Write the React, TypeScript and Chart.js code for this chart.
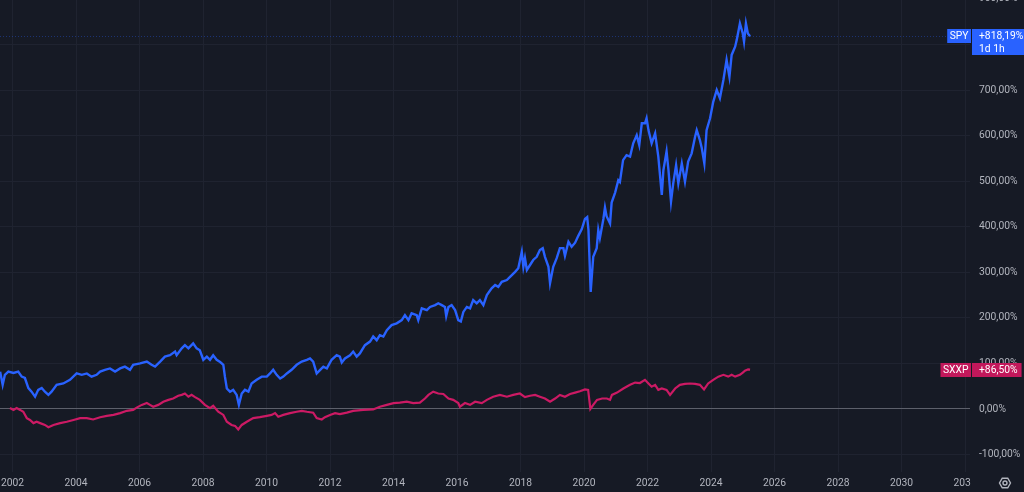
import { useEffect, useRef } from "react";
import { Chart, registerables } from "chart.js";

Chart.register(...registerables);

const BG = "#161a25";
const GRID = "#1f2330";
const ZERO_LINE = "#5d606b";
const AXIS_TEXT = "#b2b5be";
const SPY_COLOR = "#2962ff";
const SXXP_COLOR = "#cc1a64";
const SXXP_TAG = "#c2185b";
const FONT = "Roboto";
const FONT_SIZE = 10.3;

const spyDates = [
  2001.61, 2001.69, 2001.76, 2001.87, 2002.03, 2002.18, 2002.29, 2002.39, 2002.5, 2002.6,
  2002.71, 2002.81, 2002.92, 2003.02, 2003.13, 2003.23, 2003.39, 2003.6, 2003.81, 2004.02,
  2004.18, 2004.34, 2004.49, 2004.65, 2004.76, 2004.91, 2005.07, 2005.23, 2005.39, 2005.54,
  2005.7, 2005.8, 2006.02, 2006.23, 2006.38, 2006.49, 2006.65, 2006.8, 2006.96, 2007.12,
  2007.17, 2007.33, 2007.43, 2007.54, 2007.69, 2007.8, 2007.9, 2008.01, 2008.12, 2008.22,
  2008.32, 2008.43, 2008.54, 2008.64, 2008.69, 2008.75, 2008.85, 2008.95, 2009.06, 2009.13,
  2009.22, 2009.32, 2009.43, 2009.53, 2009.69, 2009.85, 2010.01, 2010.11, 2010.21, 2010.32,
  2010.43, 2010.53, 2010.64, 2010.79, 2010.95, 2011.11, 2011.27, 2011.37, 2011.47, 2011.58,
  2011.69, 2011.79, 2011.9, 2012.05, 2012.21, 2012.31, 2012.37, 2012.47, 2012.63, 2012.73,
  2012.84, 2012.94, 2013.1, 2013.26, 2013.36, 2013.47, 2013.57, 2013.68, 2013.79, 2013.94,
  2014.1, 2014.26, 2014.36, 2014.47, 2014.57, 2014.73, 2014.78, 2014.89, 2015.05, 2015.15,
  2015.31, 2015.41, 2015.52, 2015.62, 2015.66, 2015.73, 2015.83, 2015.94, 2016.04, 2016.12,
  2016.2, 2016.31, 2016.41, 2016.51, 2016.62, 2016.72, 2016.83, 2016.94, 2017.09, 2017.2,
  2017.3, 2017.41, 2017.57, 2017.67, 2017.83, 2017.93, 2018.04, 2018.09, 2018.14, 2018.2,
  2018.3, 2018.4, 2018.51, 2018.61, 2018.7, 2018.77, 2018.88, 2018.93, 2019.03, 2019.14,
  2019.24, 2019.35, 2019.4, 2019.51, 2019.61, 2019.72, 2019.82, 2019.93, 2020.03, 2020.1,
  2020.14, 2020.21, 2020.29, 2020.4, 2020.45, 2020.5, 2020.61, 2020.66, 2020.71, 2020.82,
  2020.87, 2020.98, 2021.08, 2021.13, 2021.23, 2021.34, 2021.45, 2021.55, 2021.66, 2021.74,
  2021.82, 2021.92, 2021.97, 2022.03, 2022.13, 2022.24, 2022.34, 2022.45, 2022.5, 2022.6,
  2022.66, 2022.74, 2022.81, 2022.9, 2022.97, 2023.08, 2023.18, 2023.28, 2023.39, 2023.5,
  2023.55, 2023.65, 2023.71, 2023.79, 2023.86, 2023.97, 2024.07, 2024.18, 2024.28, 2024.39,
  2024.49, 2024.58, 2024.65, 2024.76, 2024.81, 2024.91, 2025.0, 2025.04, 2025.1, 2025.16,
  2025.23,
];

const spyPct = [
  82, 53, 75, 82, 79, 82, 71, 68, 46, 38,
  27, 42, 46, 38, 31, 38, 53, 56, 64, 78,
  75, 78, 71, 75, 82, 86, 89, 82, 89, 93,
  86, 97, 100, 104, 97, 93, 104, 115, 118, 126,
  118, 133, 140, 133, 144, 133, 129, 108, 115, 108,
  118, 108, 103, 97, 71, 45, 38, 42, 31, 9,
  34, 42, 38, 56, 64, 71, 71, 78, 86, 75,
  67, 71, 78, 86, 97, 104, 108, 111, 104, 78,
  86, 93, 89, 108, 118, 115, 102, 111, 118, 126,
  115, 122, 140, 148, 159, 151, 162, 159, 173, 184,
  188, 195, 206, 195, 210, 206, 195, 221, 217, 224,
  228, 232, 228, 224, 204, 224, 228, 217, 195, 192,
  213, 224, 221, 239, 232, 239, 228, 250, 265, 272,
  268, 279, 283, 290, 301, 309, 345, 312, 331, 305,
  316, 327, 334, 349, 353, 334, 312, 276, 312, 331,
  353, 353, 336, 367, 356, 365, 380, 395, 417, 421,
  393, 257, 334, 353, 393, 375, 417, 442, 423, 407,
  453, 475, 502, 498, 546, 557, 554, 583, 601, 579,
  627, 627, 638, 612, 583, 605, 554, 470, 524, 565,
  524, 455, 495, 535, 495, 539, 499, 543, 561, 598,
  612, 590, 572, 539, 612, 638, 674, 700, 682, 722,
  766, 729, 777, 795, 810, 846, 824, 806, 846, 824,
  818.19,
];

const sxxpDates = [
  2001.92, 2002.03, 2002.13, 2002.24, 2002.34, 2002.45, 2002.55, 2002.66, 2002.76, 2002.87,
  2003.02, 2003.13, 2003.29, 2003.5, 2003.71, 2003.92, 2004.13, 2004.34, 2004.54, 2004.76,
  2004.97, 2005.18, 2005.39, 2005.6, 2005.8, 2005.91, 2006.07, 2006.23, 2006.33, 2006.43,
  2006.59, 2006.75, 2006.91, 2007.06, 2007.22, 2007.33, 2007.43, 2007.54, 2007.64, 2007.75,
  2007.9, 2008.06, 2008.22, 2008.32, 2008.48, 2008.64, 2008.75, 2008.9, 2009.01, 2009.11,
  2009.22, 2009.38, 2009.58, 2009.79, 2010.01, 2010.16, 2010.27, 2010.37, 2010.53, 2010.74,
  2010.95, 2011.11, 2011.27, 2011.47, 2011.58, 2011.74, 2011.84, 2012.0, 2012.16, 2012.31,
  2012.53, 2012.73, 2013.05, 2013.36, 2013.57, 2013.79, 2014.0, 2014.2, 2014.42, 2014.62,
  2014.83, 2014.99, 2015.1, 2015.25, 2015.41, 2015.57, 2015.73, 2015.88, 2016.04, 2016.09,
  2016.25, 2016.41, 2016.57, 2016.78, 2016.94, 2017.14, 2017.35, 2017.57, 2017.77, 2017.98,
  2018.14, 2018.3, 2018.46, 2018.61, 2018.77, 2018.93, 2019.09, 2019.24, 2019.4, 2019.56,
  2019.72, 2019.87, 2020.03, 2020.13, 2020.2, 2020.29, 2020.41, 2020.57, 2020.72, 2020.82,
  2020.88, 2021.04, 2021.24, 2021.45, 2021.61, 2021.76, 2021.92, 2022.03, 2022.13, 2022.24,
  2022.34, 2022.45, 2022.6, 2022.71, 2022.87, 2023.02, 2023.18, 2023.34, 2023.5, 2023.65,
  2023.78, 2023.91, 2024.07, 2024.23, 2024.39, 2024.54, 2024.65, 2024.76, 2024.91, 2025.0,
  2025.07, 2025.17, 2025.23,
];

const sxxpPct = [
  2, -2, 2, -2, -6, -20, -24, -31, -28, -31,
  -35, -40, -35, -31, -28, -24, -20, -20, -23, -18,
  -15, -13, -9, -4, -2, 3, 9, 13, 9, 5,
  9, 16, 20, 23, 29, 31, 34, 27, 31, 26,
  20, 9, 2, 7, -6, -13, -28, -35, -37, -45,
  -35, -28, -20, -18, -15, -13, -9, -17, -13, -9,
  -6, -4, -6, -8, -20, -23, -18, -13, -9, -11,
  -8, -4, -2, -1, 5, 9, 13, 14, 16, 13,
  14, 23, 31, 38, 34, 33, 23, 20, 13, 5,
  13, 9, 16, 13, 20, 27, 31, 27, 31, 34,
  26, 29, 31, 27, 23, 16, 23, 31, 27, 33,
  36, 39, 43, 42, 0, 9, 20, 23, 23, 20,
  31, 36, 45, 53, 58, 57, 64, 56, 49, 53,
  42, 45, 42, 31, 45, 53, 55, 56, 55, 53,
  43, 56, 64, 71, 75, 71, 75, 71, 75, 80,
  84, 87, 86.5,
];

const seriesNames = ["SPY", "SXXP"];
const spyTagValue = "+818,19%";
const spyTagInterval = "1d 1h";
const sxxpTagValue = "+86,50%";

const yMin = -138.25;
const yMax = 906.3;
const xMin = 2001.606;
const xMax = 2032.157;

const fmtPct = (v: number) => `${v.toFixed(2).replace(".", ",")}%`;

const overlayPlugin = {
  id: "tvOverlay",
  beforeDatasetsDraw(chart: any) {
    const { ctx, chartArea, scales } = chart;
    const y = Math.round(scales.y.getPixelForValue(spyPct[spyPct.length - 1])) + 0.5;
    ctx.save();
    ctx.strokeStyle = "rgba(41,98,255,0.35)";
    ctx.lineWidth = 1;
    ctx.setLineDash([1, 2]);
    ctx.beginPath();
    ctx.moveTo(chartArea.left, y);
    ctx.lineTo(chartArea.right, y);
    ctx.stroke();
    ctx.restore();
  },
  afterDatasetsDraw(chart: any) {
    const { ctx, chartArea } = chart;
    ctx.save();
    ctx.fillStyle = BG;
    ctx.fillRect(chartArea.right + 1, 0, chart.width - chartArea.right, chart.height);
    ctx.restore();
  },
  afterDraw(chart: any) {
    const { ctx, chartArea, scales } = chart;
    const right = chartArea.right;
    ctx.save();
    ctx.font = `${FONT_SIZE}px ${FONT}`;
    ctx.textBaseline = "middle";

    const drawTag = (
      name: string,
      color: string,
      value: number,
      lines: string[],
      valueBoxRight: number | null
    ) => {
      const yv = scales.y.getPixelForValue(value);
      const top = Math.round(yv - 7);
      const nameW = ctx.measureText(name).width + 5;
      ctx.fillStyle = color;
      ctx.fillRect(right + 1 - nameW, top, nameW, 14);
      const vx = right + 2;
      let tw = 0;
      lines.forEach((l) => (tw = Math.max(tw, ctx.measureText(l).width)));
      const vw = valueBoxRight !== null ? valueBoxRight - vx : tw + 11;
      const vh = lines.length > 1 ? 26 : 14;
      ctx.fillRect(vx, top, vw, vh);
      ctx.fillStyle = "#ffffff";
      ctx.textAlign = "center";
      ctx.fillText(name, right + 1 - nameW / 2, top + 7.5);
      ctx.textAlign = "left";
      lines.forEach((l, i) => ctx.fillText(l, vx + 7, top + 7.5 + i * 12.5));
    };

    drawTag(seriesNames[0], SPY_COLOR, spyPct[spyPct.length - 1], [spyTagValue, spyTagInterval], chart.width);
    drawTag(seriesNames[1], SXXP_TAG, sxxpPct[sxxpPct.length - 1], [sxxpTagValue], null);

    // settings gear icon
    const gx = 1005;
    const gy = chart.height - 9;
    ctx.strokeStyle = AXIS_TEXT;
    ctx.lineWidth = 1.4;
    ctx.beginPath();
    for (let i = 0; i < 6; i++) {
      const a = (Math.PI / 3) * i;
      const px = gx + 5.5 * Math.cos(a);
      const py = gy + 5.5 * Math.sin(a);
      if (i === 0) ctx.moveTo(px, py);
      else ctx.lineTo(px, py);
    }
    ctx.closePath();
    ctx.stroke();
    ctx.beginPath();
    ctx.arc(gx, gy, 2, 0, Math.PI * 2);
    ctx.stroke();
    ctx.restore();
  },
};

export default function App() {
  const canvasRef = useRef<HTMLCanvasElement | null>(null);

  useEffect(() => {
    document.body.style.margin = "0";
    document.body.style.background = BG;
    const canvas = canvasRef.current;
    if (!canvas) return;
    const chart = new Chart(canvas, {
      type: "line",
      data: {
        datasets: [
          {
            label: seriesNames[0],
            data: spyDates.map((d, i) => ({ x: d, y: spyPct[i] })),
            borderColor: SPY_COLOR,
            borderWidth: 2.4,
            pointRadius: 0,
            tension: 0,
          },
          {
            label: seriesNames[1],
            data: sxxpDates.map((d, i) => ({ x: d, y: sxxpPct[i] })),
            borderColor: SXXP_COLOR,
            borderWidth: 2.2,
            pointRadius: 0,
            tension: 0,
          },
        ],
      },
      options: {
        animation: false,
        responsive: false,
        maintainAspectRatio: false,
        layout: { padding: 0 },
        plugins: {
          legend: { display: false },
          tooltip: { enabled: false },
        },
        scales: {
          x: {
            type: "linear",
            position: "bottom",
            min: xMin,
            max: xMax,
            border: { display: false },
            grid: { color: GRID, lineWidth: 1, drawTicks: false },
            ticks: {
              stepSize: 2,
              includeBounds: false,
              autoSkip: false,
              maxRotation: 0,
              maxTicksLimit: 100,
              color: AXIS_TEXT,
              font: { family: FONT, size: FONT_SIZE },
              padding: 5,
              callback: (v: any) => String(Math.round(Number(v))),
            },
            afterFit: (s: any) => {
              s.height = 20;
              s.paddingLeft = 0;
              s.paddingRight = 0;
            },
          },
          y: {
            type: "linear",
            position: "right",
            min: yMin,
            max: yMax,
            border: { display: false },
            grid: {
              drawTicks: false,
              lineWidth: 1,
              color: (c: any) => (c.tick && c.tick.value === 0 ? ZERO_LINE : GRID),
            },
            ticks: {
              stepSize: 100,
              includeBounds: false,
              maxTicksLimit: 100,
              color: AXIS_TEXT,
              font: { family: FONT, size: FONT_SIZE },
              padding: 9,
              z: 1,
              callback: (v: any) => fmtPct(Number(v)),
            },
            afterFit: (s: any) => {
              s.width = 54;
              s.paddingTop = 0;
              s.paddingBottom = 0;
            },
          },
        },
      },
      plugins: [overlayPlugin],
    } as any);
    return () => chart.destroy();
  }, []);

  return (
    <div
      style={{
        width: 1024,
        height: 492,
        position: "relative",
        overflow: "hidden",
        background: BG,
      }}
    >
      <canvas
        ref={canvasRef}
        width={1024}
        height={496}
        style={{ position: "absolute", top: -4, left: 0, width: 1024, height: 496, display: "block" }}
      />
    </div>
  );
}
